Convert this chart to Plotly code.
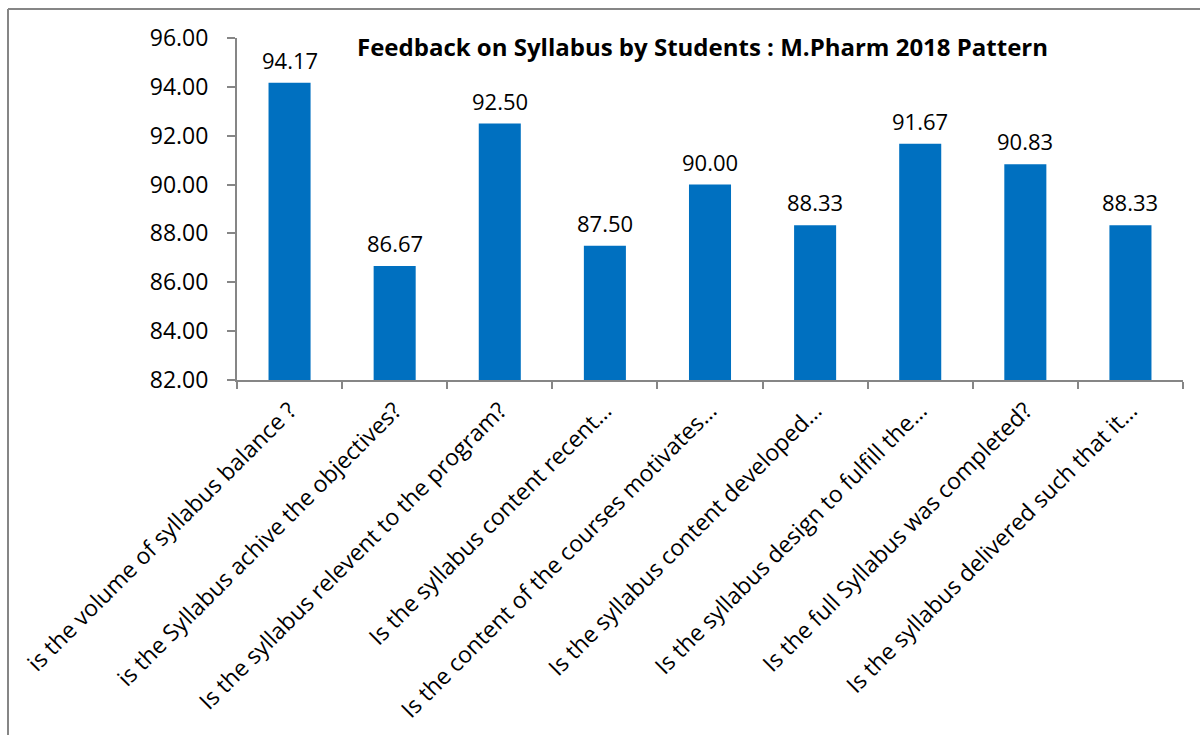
import plotly.graph_objects as go

categories = [
    "is the volume of syllabus balance ?",
    "is the Syllabus achive the objectives?",
    "Is the syllabus relevent to the program?",
    "Is the syllabus content recent…",
    "Is the content of the courses motivates…",
    "Is the syllabus content developed…",
    "Is the syllabus design to fulfill the…",
    "Is the full Syllabus was completed?",
    "Is the syllabus delivered such that it…",
]
values = [94.17, 86.67, 92.50, 87.50, 90.00, 88.33, 91.67, 90.83, 88.33]
y_ticks = [82, 84, 86, 88, 90, 92, 94, 96]
title_text = "Feedback on Syllabus by Students : M.Pharm 2018 Pattern"

W, H = 1200, 735
ml, mr, mt, mb = 237, 17, 38, 355
pw, ph = W - ml - mr, H - mt - mb

FONT = "Open Sans"
AXIS = "#868686"

fig = go.Figure(go.Bar(
    x=categories, y=values,
    marker=dict(color="#0070C0", line=dict(width=0)),
    cliponaxis=False,
))

value_labels = [
    dict(x=c, y=v, xref="x", yref="y", text=f"{v:.2f}", showarrow=False,
         xanchor="center", yanchor="bottom", yshift=6,
         font=dict(family=FONT, size=22, color="#000000"))
    for c, v in zip(categories, values)
]

fig.update_layout(
    width=W, height=H,
    margin=dict(l=ml, r=mr, t=mt, b=mb, autoexpand=False),
    paper_bgcolor="white", plot_bgcolor="white",
    bargap=0.6,
    showlegend=False,
    font=dict(family=FONT, color="#000000"),
    annotations=value_labels + [dict(
        text=f"<b>{title_text}</b>", xref="paper", yref="paper",
        x=(702 - ml) / pw, y=1 - (47 - mt) / ph, xanchor="center", yanchor="middle",
        showarrow=False,
        font=dict(family=FONT, size=24, color="#000000"),
    )],
    shapes=[
        dict(type="line", xref="paper", yref="paper",
             x0=(8 - ml) / pw, x1=(W + 5 - ml) / pw,
             y0=1 + (mt - 9) / ph, y1=1 + (mt - 9) / ph,
             line=dict(color=AXIS, width=2)),
        dict(type="line", xref="paper", yref="paper",
             x0=(8 - ml) / pw, x1=(8 - ml) / pw,
             y0=1 + (mt - 9) / ph, y1=-(mb + 5) / ph,
             line=dict(color=AXIS, width=2)),
    ],
)

fig.update_yaxes(
    range=[82, 96], tickvals=y_ticks, tickformat=".2f",
    showgrid=False, showline=True, linecolor=AXIS, linewidth=2,
    ticks="outside", ticklen=8, tickcolor=AXIS, tickwidth=2,
    ticklabelstandoff=14,
    tickfont=dict(family=FONT, size=23, color="#000000"),
    zeroline=False,
)
fig.update_xaxes(
    showgrid=False, showline=True, linecolor=AXIS, linewidth=2,
    ticks="outside", ticklen=7, tickcolor=AXIS, tickwidth=2,
    tickson="boundaries", tickangle=-45, ticklabelstandoff=6,
    tickfont=dict(family=FONT, size=23, color="#000000"),
)

fig.write_html("out.html", config={"displayModeBar": False},
               post_script="document.body.style.margin='0';")
